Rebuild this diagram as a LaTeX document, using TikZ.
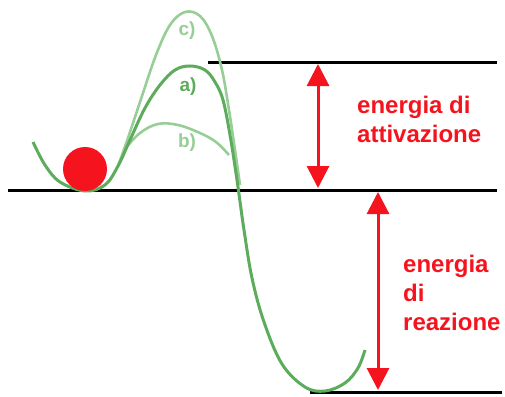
\documentclass[tikz,border=0pt]{standalone}
\usepackage{fontspec}
\setmainfont{Liberation Sans}
\usetikzlibrary{arrows.meta,positioning}
\definecolor{curvegreen}{RGB}{92,172,92}
\definecolor{lightgreen}{RGB}{150,206,150}
\definecolor{labelred}{RGB}{245,20,30}

\begin{document}
\begin{tikzpicture}[x=1pt,y=-1pt,
  level/.style={line width=3pt,black},
  span/.style={line width=3pt,labelred,{Triangle[length=22pt,width=22pt]}-{Triangle[length=22pt,width=22pt]}},
  note/.style={text=labelred,font=\bfseries\fontsize{24}{29}\selectfont,align=left,inner sep=0pt},
  tag/.style={font=\bfseries\fontsize{19}{20}\selectfont,inner sep=0pt}]
\useasboundingbox (0,0) rectangle (505,396);
% energy levels
\coordinate (t1) at (208,62);
\coordinate (t2) at (497,62);
\coordinate (m1) at (8,190);
\coordinate (m2) at (497,190);
\coordinate (b1) at (310,392);
\coordinate (b2) at (502,392);
\draw[level] (t1) -- (t2);
\draw[level] (m1) -- (m2);
\draw[level] (b1) -- (b2);
% curves
\draw[lightgreen,line width=2.6pt] plot[smooth,tension=.6] coordinates
  {(118,166) (128,138) (142,96) (156,55) (170,25) (185,12) (200,16) (212,36) (222,70) (229,110) (235,150) (240,185)};
\draw[lightgreen,line width=2.6pt] plot[smooth,tension=.6] coordinates
  {(124,150) (140,133) (158,124) (178,125) (200,133) (216,142) (229,155)};
\draw[curvegreen,line width=3pt] plot[smooth,tension=.6] coordinates
  {(33,142) (45,165) (60,182) (85,191) (105,185) (118,166) (130,140) (145,108) (160,85) (175,70) (190,66) (205,70) (215,82) (223,100) (230,135) (237,180) (244,230) (252,278) (264,322) (282,364) (305,387) (325,391) (345,383) (358,368) (365,350)};
% ball
\node[circle,fill=labelred,minimum size=44pt,inner sep=0pt] (ball) at (85,169) {};
% curve labels
\node[tag,text=lightgreen] (lc) at (187,31) {c)};
\node[tag,text=curvegreen] (la) at (188,87) {a)};
\node[tag,text=lightgreen] (lb) at (187,143) {b)};
% arrows
\coordinate (ea1) at (318,64);
\coordinate (ea2) at (318,188);
\coordinate (er1) at (378,192);
\coordinate (er2) at (378,390);
\draw[span] (ea1) -- (ea2);
\draw[span] (er1) -- (er2);
\node[note,anchor=west] (att) at (357,119) {energia di\\attivazione};
\node[note,anchor=west] (rea) at (403,293) {energia\\di\\reazione};
\end{tikzpicture}
\end{document}
